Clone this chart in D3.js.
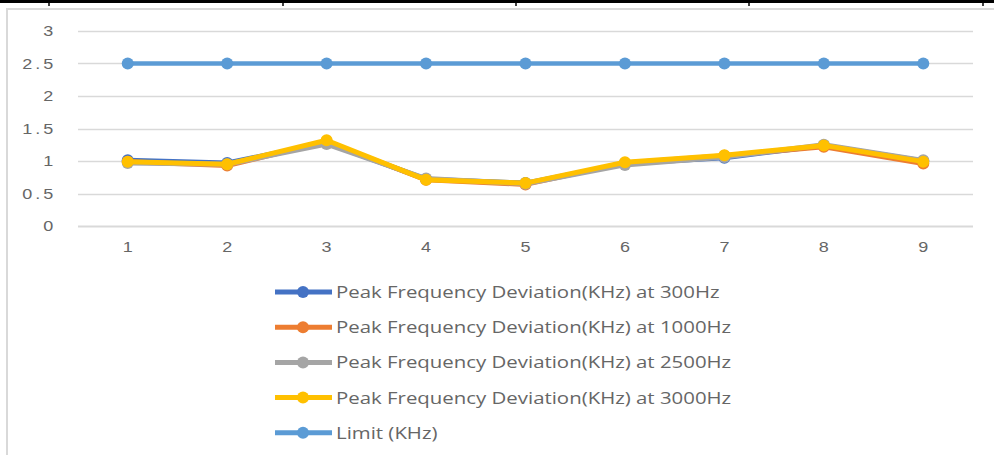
<!DOCTYPE html>
<html>
<head>
<meta charset="utf-8">
<script src="https://cdn.jsdelivr.net/npm/d3@7"></script>
<style>
  body { margin: 0; background: #fff; }
  svg { display: block; font-family: "Open Sans", "DejaVu Sans", sans-serif; }
</style>
</head>
<body>
<div id="chart"></div>
<script>
// chart data
var categories = ["1", "2", "3", "4", "5", "6", "7", "8", "9"];
var yTicks = [0, 0.5, 1, 1.5, 2, 2.5, 3];
var dev300 = [1.01, 0.97, 1.28, 0.72, 0.66, 0.96, 1.05, 1.24, 1.00];
var dev1000 = [0.99, 0.93, 1.30, 0.71, 0.64, 0.97, 1.08, 1.22, 0.96];
var dev2500 = [0.97, 0.95, 1.26, 0.73, 0.65, 0.94, 1.06, 1.25, 1.01];
var dev3000 = [0.99, 0.95, 1.32, 0.71, 0.66, 0.98, 1.09, 1.24, 0.99];
var limit = [2.5, 2.5, 2.5, 2.5, 2.5, 2.5, 2.5, 2.5, 2.5];
var seriesNames = [
  "Peak Frequency Deviation(KHz) at 300Hz",
  "Peak Frequency Deviation(KHz) at 1000Hz",
  "Peak Frequency Deviation(KHz) at 2500Hz",
  "Peak Frequency Deviation(KHz) at 3000Hz",
  "Limit (KHz)"
];
var seriesColors = ["#4472C4", "#ED7D31", "#A5A5A5", "#FFC000", "#5B9BD5"];

var series = [dev300, dev1000, dev2500, dev3000, limit].map(function(v, i){
  return { name: seriesNames[i], color: seriesColors[i], values: v, width: i == 4 ? 4.5 : 5 };
});

var W = 994, H = 455;
var svg = d3.select("#chart").append("svg")
  .attr("width", W).attr("height", H);

// table border on top (black) with cell ticks
svg.append("line").attr("x1", 0).attr("x2", W).attr("y1", 1.5).attr("y2", 1.5)
  .attr("stroke", "#000").attr("stroke-width", 3);
[49, 283, 516, 749, 983].forEach(function(x){
  svg.append("line").attr("x1", x).attr("x2", x).attr("y1", 0).attr("y2", 6)
    .attr("stroke", "#000").attr("stroke-width", 1.5);
});

// chart frame
svg.append("path").attr("d", "M7," + H + "V9H" + W)
  .attr("fill", "none").attr("stroke", "#d9d9d9").attr("stroke-width", 2);

var x = d3.scaleBand().domain(categories).range([78, 973]);
var y = d3.scaleLinear().domain([0, 3]).range([226, 31]);

// gridlines
svg.append("g").selectAll("line").data(yTicks).enter().append("line")
  .attr("x1", 78).attr("x2", 973)
  .attr("y1", function(d){ return Math.round(y(d)) + 0.5; })
  .attr("y2", function(d){ return Math.round(y(d)) + 0.5; })
  .attr("stroke", "#d9d9d9").attr("stroke-width", function(d){ return d == 0 ? 2 : 1.5; });

// y axis labels (picture is stretched sideways, so are the texts)
var yAxis = svg.append("g").attr("transform", "translate(61,0)")
  .call(d3.axisLeft(y).tickValues(yTicks).tickSize(0).tickPadding(4).tickFormat(d3.format("")));
yAxis.select(".domain").remove();
yAxis.selectAll("text").attr("fill", "#666").style("font-size", "15px")
  .style("letter-spacing", "2.5px")
  .attr("transform", "scale(1.2,1)");

// x axis labels
var xAxis = svg.append("g").attr("transform", "translate(0,239)")
  .call(d3.axisBottom(x).tickSize(0).tickPadding(2));
xAxis.select(".domain").remove();
xAxis.selectAll("text").attr("fill", "#666").style("font-size", "15px")
  .attr("transform", "scale(1.2,1)");

var line = d3.line()
  .x(function(d, i){ return x(categories[i]) + x.bandwidth() / 2; })
  .y(function(d){ return y(d); });

series.forEach(function(s){
  var g = svg.append("g");
  g.append("path").datum(s.values)
    .attr("d", line)
    .attr("fill", "none")
    .attr("stroke", s.color)
    .attr("stroke-width", s.width)
    .attr("stroke-linejoin", "round");
  g.selectAll("circle").data(s.values).enter().append("circle")
    .attr("cx", function(d, i){ return x(categories[i]) + x.bandwidth() / 2; })
    .attr("cy", function(d){ return y(d); })
    .attr("r", 6)
    .attr("fill", s.color);
});

// legend
var legend = svg.append("g").attr("transform", "translate(275,292)");
var item = legend.selectAll("g").data(series).enter().append("g")
  .attr("transform", function(d, i){ return "translate(0," + (i * 35.2) + ")"; });
item.append("line").attr("x1", 0).attr("x2", 57).attr("y1", 0).attr("y2", 0)
  .attr("stroke", function(d){ return d.color; }).attr("stroke-width", 5);
item.append("circle").attr("cx", 28).attr("cy", 0).attr("r", 6)
  .attr("fill", function(d){ return d.color; });
item.append("text").attr("transform", "translate(61,0) scale(1.2,1)").attr("dy", "0.35em")
  .attr("fill", "#666").style("font-size", "17px")
  .text(function(d){ return d.name; });
</script>
</body>
</html>
